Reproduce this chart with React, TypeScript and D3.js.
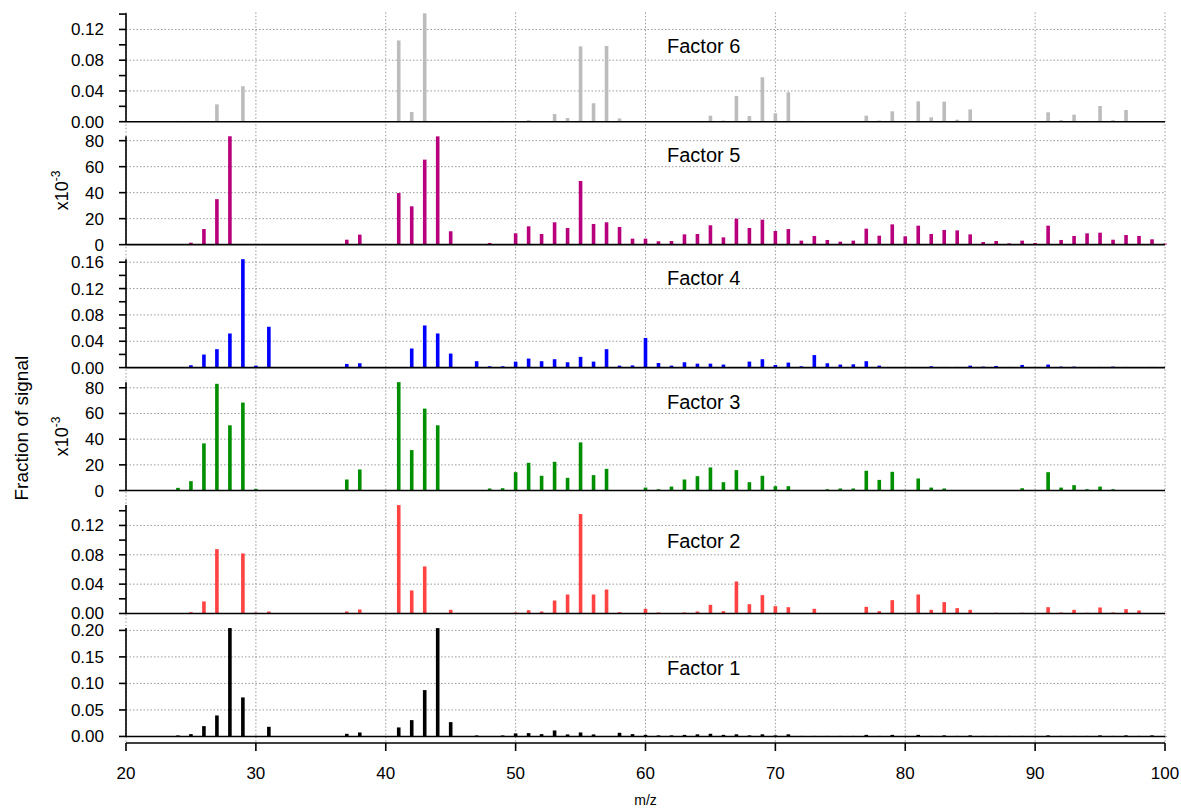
import React from 'react';
import * as d3 from 'd3';

// m/z channels covered by every factor profile
const MZ_FIRST = 24;
const MZ_LAST = 100;
const mzChannels: number[] = d3.range(MZ_FIRST, MZ_LAST + 1);

// Fraction of signal per m/z channel (m/z 24 … 100)
const factor6 = [
  0.001, 0.001, 0.001, 0.0226, 0.001, 0.0461, 0.0005, 0.001, 0, 0,
  0, 0, 0, 0.0005, 0.0005, 0, 0, 0.1057, 0.0126, 0.141,
  0.001, 0.001, 0, 0.001, 0.001, 0.001, 0.0005, 0.002, 0.001, 0.010,
  0.0048, 0.098, 0.024, 0.0985, 0.0043, 0.001, 0.0005, 0.0005, 0.0005, 0.0005,
  0.001, 0.0078, 0.0015, 0.0335, 0.0074, 0.0578, 0.0109, 0.0383, 0.001, 0.0005,
  0.0005, 0.0005, 0.0005, 0.0078, 0.0015, 0.0135, 0.0005, 0.0265, 0.0057, 0.0261,
  0.0026, 0.016, 0.0005, 0.0005, 0.0005, 0.0005, 0.0005, 0.0122, 0.002, 0.0091,
  0.001, 0.0204, 0.002, 0.0152, 0.001, 0.001, 0.0005,
];

const factor5 = [
  0.0003, 0.0015, 0.012, 0.035, 0.0834, 0, 0, 0, 0, 0,
  0, 0, 0, 0.0038, 0.0077, 0, 0, 0.0397, 0.0295, 0.0654,
  0.0833, 0.0103, 0, 0, 0.0013, 0.0003, 0.0087, 0.0141, 0.0082, 0.0172,
  0.0128, 0.049, 0.0159, 0.0172, 0.0136, 0.0046, 0.0046, 0.0026, 0.0028, 0.0079,
  0.0082, 0.0149, 0.0056, 0.020, 0.0128, 0.0192, 0.0105, 0.012, 0.0031, 0.0067,
  0.0036, 0.0023, 0.0031, 0.0123, 0.0069, 0.0156, 0.0064, 0.0146, 0.0082, 0.0113,
  0.011, 0.0079, 0.002, 0.0028, 0.001, 0.0031, 0.0013, 0.0146, 0.0036, 0.0067,
  0.0087, 0.0092, 0.0038, 0.0074, 0.0067, 0.0041, 0.0008,
];

const factor4 = [
  0.0005, 0.0036, 0.0198, 0.028, 0.0518, 0.1646, 0.003, 0.062, 0, 0,
  0, 0, 0, 0.0056, 0.0066, 0, 0, 0, 0.029, 0.064,
  0.0518, 0.0213, 0, 0.0097, 0.002, 0.002, 0.0091, 0.0137, 0.0097, 0.0127,
  0.0081, 0.0163, 0.0091, 0.028, 0.003, 0.0033, 0.045, 0.007, 0.003, 0.0081,
  0.006, 0.006, 0.0046, 0, 0.0091, 0.0127, 0.004, 0.0076, 0.002, 0.019,
  0.0066, 0.0046, 0.005, 0.0097, 0.003, 0, 0, 0.0005, 0.002, 0.001,
  0.001, 0.003, 0.0015, 0.0025, 0.001, 0.004, 0.0005, 0.0046, 0.0015, 0.0015,
  0, 0.001, 0.0015, 0.001, 0, 0.001, 0,
];

const factor3 = [
  0.0021, 0.0073, 0.0367, 0.0831, 0.0508, 0.0685, 0.0013, 0.0003, 0, 0,
  0, 0, 0, 0.0086, 0.0164, 0, 0, 0.0844, 0.0315, 0.0638,
  0.0508, 0.0003, 0, 0, 0.0016, 0.0018, 0.0143, 0.0216, 0.0115, 0.0224,
  0.0099, 0.0375, 0.012, 0.0169, 0.0003, 0.0003, 0.0023, 0.001, 0.0031, 0.0086,
  0.0112, 0.018, 0.0065, 0.0159, 0.0065, 0.0115, 0.0034, 0.0034, 0, 0,
  0.001, 0.0016, 0.0016, 0.0154, 0.0083, 0.0146, 0, 0.0094, 0.0023, 0.0016,
  0, 0, 0, 0, 0, 0.0018, 0, 0.0143, 0.0023, 0.0042,
  0.001, 0.0031, 0.001, 0, 0, 0, 0,
];

const factor2 = [
  0.0005, 0.0018, 0.0164, 0.0877, 0.0005, 0.0818, 0.0014, 0.0027, 0, 0,
  0, 0, 0, 0.0027, 0.0055, 0, 0, 0.1477, 0.0314, 0.0641,
  0.0005, 0.005, 0, 0.0005, 0.0005, 0.0005, 0.0014, 0.0045, 0.0027, 0.0177,
  0.0259, 0.1355, 0.0259, 0.0327, 0.0018, 0.0005, 0.0064, 0.0014, 0.0005, 0.0014,
  0.0027, 0.0118, 0.0032, 0.0436, 0.0127, 0.025, 0.010, 0.0086, 0.0005, 0.0064,
  0.0005, 0.0005, 0.0005, 0.0091, 0.0032, 0.0182, 0, 0.0259, 0.005, 0.0155,
  0.0073, 0.005, 0.0005, 0.001, 0.0005, 0.001, 0.0005, 0.0086, 0.0014, 0.005,
  0.001, 0.0082, 0.0014, 0.0059, 0.0041, 0.0005, 0.0005,
];

const factor1 = [
  0.0019, 0.0044, 0.0195, 0.0396, 0.2044, 0.0736, 0.001, 0.0182, 0, 0,
  0, 0, 0, 0.005, 0.0075, 0, 0, 0.017, 0.0308, 0.0874,
  0.2043, 0.027, 0, 0.0019, 0, 0.0019, 0.0057, 0.0063, 0.0044, 0.0113,
  0.0038, 0.0075, 0.0038, 0.0005, 0.0069, 0.0044, 0.003, 0.002, 0.002, 0.003,
  0.004, 0.005, 0.003, 0.004, 0.002, 0.004, 0.002, 0.004, 0.001, 0.001,
  0.001, 0.001, 0.001, 0.003, 0.001, 0.003, 0.001, 0.003, 0.001, 0.002,
  0.001, 0.002, 0.001, 0.001, 0.001, 0.001, 0.001, 0.002, 0.001, 0.001,
  0.001, 0.002, 0.001, 0.002, 0.001, 0.002, 0.001,
];

// Panels, top to bottom
const factorNames = ['Factor 6', 'Factor 5', 'Factor 4', 'Factor 3', 'Factor 2', 'Factor 1'];
const factorSeries = [factor6, factor5, factor4, factor3, factor2, factor1];
const factorColors = ['#bcbcbc', '#b8007c', '#0000ff', '#008f00', '#ff4343', '#000000'];

// Labelled y ticks, the in-between ticks, and the display multiplier per panel
const majorTicks = [
  [0, 0.04, 0.08, 0.12],
  [0, 0.02, 0.04, 0.06, 0.08],
  [0, 0.04, 0.08, 0.12, 0.16],
  [0, 0.02, 0.04, 0.06, 0.08],
  [0, 0.04, 0.08, 0.12],
  [0, 0.05, 0.1, 0.15, 0.2],
];
const minorTicks = [
  [0.02, 0.06, 0.1, 0.14],
  [],
  [0.02, 0.06, 0.1, 0.14],
  [],
  [0.02, 0.06, 0.1, 0.14],
  [],
];
const tickScale = [1, 1000, 1, 1000, 1, 1];

const xTicks = [20, 30, 40, 50, 60, 70, 80, 90, 100];

// Layout
const W = 1181;
const H = 809;
const PLOT_LEFT = 126;
const PLOT_RIGHT = 1165;
const FIRST_TOP = 13.3;
const PANEL_STEP = 122.95;
const PANEL_H = 108.4;
const X_AXIS_Y = 743;
const LABEL_X = 667;
const LABEL_DY = [40, 26, 26, 27, 43, 47];
const BAR_W = 3.6;
const FONT = '"Liberation Sans", Arial, Helvetica, sans-serif';
const GRID = '#9a9a9a';

export default function App() {
  const x = d3.scaleLinear().domain([20, 100]).range([PLOT_LEFT, PLOT_RIGHT]);

  const panels = factorSeries.map((values, i) => {
    const top = FIRST_TOP + PANEL_STEP * i;
    const bottom = top + PANEL_H;
    const y = d3.scaleLinear().domain([0, d3.max(values) as number]).range([bottom, top]);
    return { values, top, bottom, y, i };
  });

  return (
    <svg
      width={W}
      height={H}
      style={{ position: 'absolute', left: 0, top: 0, background: '#fff' }}
      fontFamily={FONT}
    >
      {/* vertical grid running through all panels */}
      {xTicks.map((t) => (
        <line
          key={'vg' + t}
          x1={x(t)}
          x2={x(t)}
          y1={FIRST_TOP - 1}
          y2={X_AXIS_Y}
          stroke={GRID}
          strokeWidth={1}
          strokeDasharray="1.5,2"
        />
      ))}

      {panels.map(({ values, top, bottom, y, i }) => {
        const fmt =
          tickScale[i] === 1000
            ? (v: number) => d3.format('d')(Math.round(v * 1000))
            : d3.format('.2f');
        return (
          <g key={'p' + i}>
            {/* horizontal grid */}
            {majorTicks[i]
              .filter((t) => t > 0)
              .map((t) => (
                <line
                  key={'hg' + t}
                  x1={PLOT_LEFT}
                  x2={PLOT_RIGHT}
                  y1={y(t)}
                  y2={y(t)}
                  stroke={GRID}
                  strokeWidth={1}
                  strokeDasharray="1.5,2"
                />
              ))}

            {/* bars */}
            {mzChannels.map((mz, k) =>
              values[k] > 0 ? (
                <rect
                  key={'b' + mz}
                  x={x(mz) - BAR_W / 2}
                  y={y(values[k])}
                  width={BAR_W}
                  height={bottom - y(values[k])}
                  fill={factorColors[i]}
                />
              ) : null
            )}

            {/* zero line */}
            <line x1={PLOT_LEFT} x2={PLOT_RIGHT} y1={bottom} y2={bottom} stroke="#000" strokeWidth={1.6} />

            {/* left axis */}
            <line x1={PLOT_LEFT} x2={PLOT_LEFT} y1={top} y2={bottom} stroke="#000" strokeWidth={1.6} />
            {[...majorTicks[i], ...minorTicks[i]].map((t) => (
              <line
                key={'t' + t}
                x1={PLOT_LEFT - 7}
                x2={PLOT_LEFT}
                y1={y(t)}
                y2={y(t)}
                stroke="#000"
                strokeWidth={1.6}
              />
            ))}
            {majorTicks[i].map((t) => (
              <text
                key={'tl' + t}
                x={PLOT_LEFT - 22}
                y={y(t)}
                dy="0.35em"
                textAnchor="end"
                fontSize={17}
                fill="#000"
              >
                {fmt(t)}
              </text>
            ))}
            {tickScale[i] === 1000 && (
              <text
                transform={`translate(68,${(top + bottom) / 2}) rotate(-90)`}
                textAnchor="middle"
                fontSize={18}
                fill="#000"
              >
                x10
                <tspan dy={-8} fontSize={12}>
                  -3
                </tspan>
              </text>
            )}

            {/* factor name */}
            <text x={LABEL_X} y={top + LABEL_DY[i]} fontSize={20} fill="#000">
              {factorNames[i]}
            </text>
          </g>
        );
      })}

      {/* bottom m/z axis */}
      <line x1={PLOT_LEFT} x2={PLOT_RIGHT} y1={X_AXIS_Y} y2={X_AXIS_Y} stroke="#000" strokeWidth={1.6} />
      {xTicks.map((t) => (
        <g key={'xt' + t}>
          <line x1={x(t)} x2={x(t)} y1={X_AXIS_Y} y2={X_AXIS_Y + 8} stroke="#000" strokeWidth={1.6} />
          <text x={x(t)} y={X_AXIS_Y + 36} textAnchor="middle" fontSize={17} fill="#000">
            {t}
          </text>
        </g>
      ))}
      <text x={(PLOT_LEFT + PLOT_RIGHT) / 2} y={805} textAnchor="middle" fontSize={14} fill="#000">
        m/z
      </text>

      <text
        transform={`translate(28,${(FIRST_TOP + X_AXIS_Y) / 2 + 50}) rotate(-90)`}
        textAnchor="middle"
        fontSize={19}
        fill="#000"
      >
        Fraction of signal
      </text>
    </svg>
  );
}
